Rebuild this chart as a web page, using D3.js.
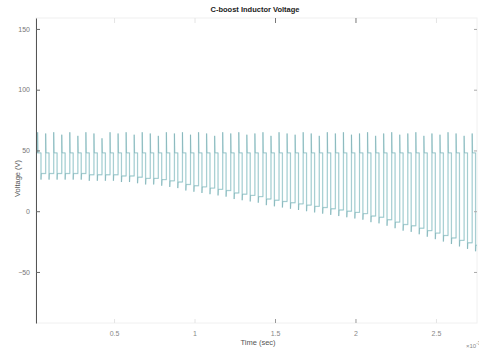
<!DOCTYPE html>
<html>
<head>
<meta charset="utf-8">
<script src="https://cdn.jsdelivr.net/npm/d3@7"></script>
<style>
  body { margin: 0; background: #fff; }
  svg { display: block; font-family: "Liberation Sans", Arial, sans-serif; }
</style>
</head>
<body>
<div id="chart"></div>
<script>
"use strict";

// ---- data (time in ms, i.e. x 10^-3 s) ----
const xTicks = [0.5, 1, 1.5, 2, 2.5];
const yTicks = [-50, 0, 50, 100, 150];
const pulsePeriod = 0.05;
const firstPulse = 0.025;
// low level of the inductor voltage in each switching period
const lowLevel = [
    31, 31, 31, 31, 31, 31, 30, 30, 30, 30,
    29, 29, 28, 27, 27, 26, 25, 24, 22, 21,
    20, 19, 18, 17, 15, 14, 13, 12, 10, 9,
    8, 7, 6, 5, 4, 3, 2, 1, 0, -1,
    -2, -4, -5, -7, -9, -11, -12, -14, -16, -18,
    -20, -22, -24, -26, -28
];
// overshoot peak on each rising edge
const peakLevel = [
    65, 64, 65, 63, 65, 62, 65, 64, 60, 65,
    64, 65, 63, 65, 64, 62, 65, 64, 65, 63,
    65, 64, 62, 65, 64, 65, 63, 64, 65, 62,
    65, 64, 63, 65, 64, 62, 65, 64, 65, 63,
    64, 65, 62, 64, 65, 63, 64, 65, 62, 64,
    63, 65, 64, 62, 64
];
const highLevel = 48;
const undershoot = 5;

const width = 479, height = 352;
const margin = { top: 18, right: 2, bottom: 29, left: 36 };

const svg = d3.select("#chart").append("svg")
    .attr("width", width)
    .attr("height", height);

const x = d3.scaleLinear()
    .domain([0.015, 2.755])
    .range([margin.left, width - margin.right]);

const y = d3.scaleLinear()
    .domain([-92, 159])
    .range([height - margin.bottom, margin.top]);

// faint box
svg.append("rect")
    .attr("x", margin.left)
    .attr("y", margin.top)
    .attr("width", width - margin.right - margin.left)
    .attr("height", height - margin.bottom - margin.top)
    .attr("fill", "none")
    .attr("stroke", "#f0f0f0");

// ---- waveform ----
const pts = [];
pts.push([x.domain()[0], highLevel]);
lowLevel.forEach((lo, k) => {
    const s = firstPulse + k * pulsePeriod;
    const prevLo = k === 0 ? highLevel : lowLevel[k - 1];
    pts.push([s, prevLo]);
    pts.push([s, peakLevel[k]]);
    pts.push([s + 0.002, highLevel]);
    const f = s + 0.42 * pulsePeriod;
    pts.push([f, highLevel]);
    pts.push([f, lo - undershoot]);
    pts.push([f + 0.002, lo]);
});
pts.push([x.domain()[1], lowLevel[lowLevel.length - 1]]);

const line = d3.line()
    .x(d => x(d[0]))
    .y(d => y(d[1]));

svg.append("path")
    .datum(pts)
    .attr("fill", "none")
    .attr("stroke", "#cdeaec")
    .attr("stroke-width", 1.4)
    .attr("d", line);

svg.append("path")
    .datum(pts)
    .attr("fill", "none")
    .attr("stroke", "#3f8086")
    .attr("stroke-opacity", 0.55)
    .attr("stroke-width", 0.5)
    .attr("d", line);

// ---- axes ----
const yAxis = svg.append("g")
    .attr("transform", `translate(${margin.left},0)`)
    .call(d3.axisLeft(y).tickValues(yTicks).tickSizeInner(-4).tickSizeOuter(0).tickPadding(6));
yAxis.select(".domain").attr("stroke", "#555");
yAxis.selectAll(".tick line").attr("stroke", "#666");
yAxis.selectAll("text").attr("fill", "#777").style("font-size", "7px");

// right side ticks
svg.append("g")
    .attr("transform", `translate(${width - margin.right},0)`)
    .call(d3.axisRight(y).tickValues(yTicks).tickSizeInner(-3).tickSizeOuter(0).tickFormat(""))
    .call(g => g.select(".domain").remove())
    .selectAll(".tick line").attr("stroke", "#aaa");

const xAxis = svg.append("g")
    .attr("transform", `translate(0,${height - margin.bottom})`)
    .call(d3.axisBottom(x).tickValues(xTicks).tickSizeInner(-4).tickSizeOuter(0).tickPadding(8)
        .tickFormat(d3.format("")));
xAxis.select(".domain").remove();
xAxis.selectAll(".tick line").attr("stroke", (d) => (d === 1.5 || d === 2) ? "#999" : "#e4e4e4");
xAxis.selectAll("text").attr("fill", "#888").style("font-size", "7px");

svg.append("g")
    .attr("transform", `translate(0,${margin.top})`)
    .call(d3.axisTop(x).tickValues(xTicks).tickSizeInner(-5).tickSizeOuter(0).tickFormat(""))
    .call(g => g.select(".domain").remove())
    .selectAll(".tick line").attr("stroke", (d) => (d === 1.5 || d === 2) ? "#777" : "#e4e4e4");

// ---- labels ----
svg.append("text")
    .attr("x", 255)
    .attr("y", 12)
    .attr("text-anchor", "middle")
    .attr("font-weight", "bold")
    .attr("font-size", "7.5px")
    .attr("fill", "#222")
    .text("C-boost Inductor Voltage");

svg.append("text")
    .attr("x", 258)
    .attr("y", 345)
    .attr("text-anchor", "middle")
    .attr("font-size", "7.5px")
    .attr("fill", "#555")
    .text("Time (sec)");

svg.append("text")
    .attr("transform", `translate(20,${(margin.top + height - margin.bottom) / 2 + 8}) rotate(-90)`)
    .attr("text-anchor", "middle")
    .attr("font-size", "7.5px")
    .attr("fill", "#555")
    .text("Voltage (V)");

const expo = svg.append("text")
    .attr("x", 466)
    .attr("y", 348)
    .attr("font-size", "6px")
    .attr("fill", "#888");
expo.append("tspan").text("\u00d710");
expo.append("tspan").attr("dy", -3).attr("font-size", "4.5px").text("-3");
</script>
</body>
</html>
